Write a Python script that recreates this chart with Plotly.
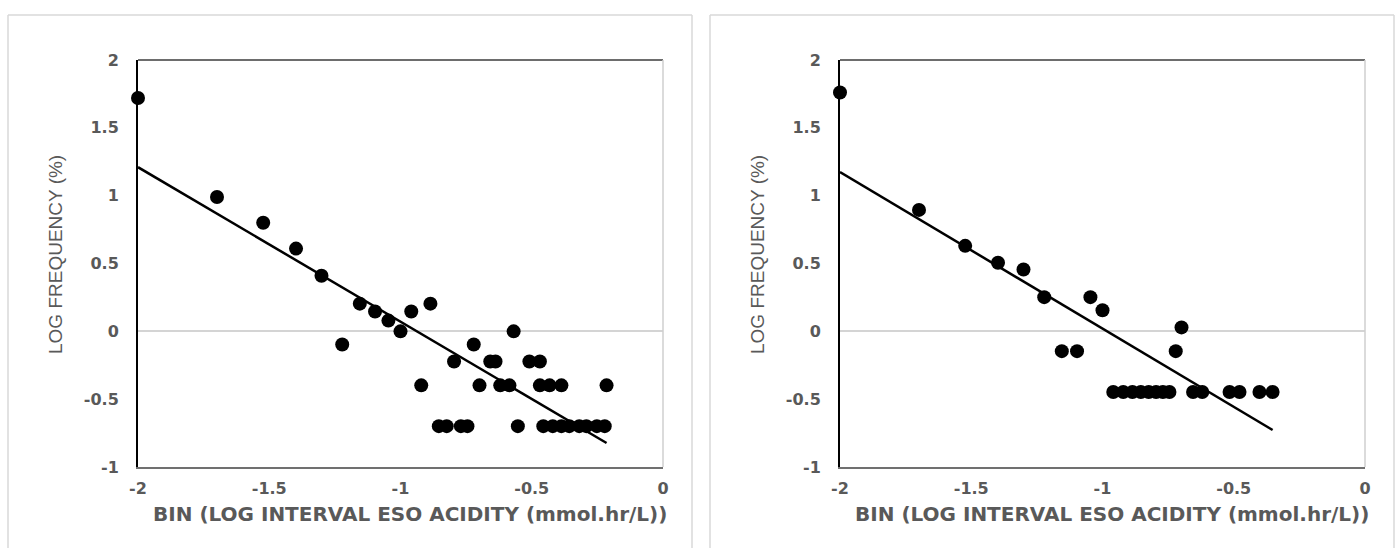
import plotly.graph_objects as go

W, H = 1397, 548

# ---------------- data ----------------
left_x = [-2.0, -1.699, -1.523, -1.398, -1.301, -1.222, -1.155, -1.097, -1.046, -1.000,
          -0.959, -0.921, -0.886, -0.854, -0.824, -0.796, -0.770, -0.745, -0.721, -0.699,
          -0.658, -0.638, -0.620, -0.585, -0.569, -0.553, -0.509, -0.469, -0.469, -0.456,
          -0.432, -0.420, -0.387, -0.387, -0.357, -0.319, -0.292, -0.252, -0.222, -0.215]
left_y = [1.72, 0.99, 0.80, 0.61, 0.41, -0.097, 0.204, 0.146, 0.079, 0.0,
          0.146, -0.398, 0.204, -0.699, -0.699, -0.222, -0.699, -0.699, -0.097, -0.398,
          -0.222, -0.222, -0.398, -0.398, 0.0, -0.699, -0.222, -0.222, -0.398, -0.699,
          -0.398, -0.699, -0.398, -0.699, -0.699, -0.699, -0.699, -0.699, -0.699, -0.398]
left_fit_x = [-2.0, -0.215]
left_fit_y = [1.21, -0.823]

right_x = [-2.0, -1.699, -1.523, -1.398, -1.301, -1.222, -1.155, -1.097, -1.046, -1.000,
           -0.959, -0.921, -0.886, -0.854, -0.824, -0.796, -0.770, -0.745, -0.721, -0.699,
           -0.655, -0.620, -0.516, -0.478, -0.402, -0.352]
right_y = [1.76, 0.895, 0.63, 0.505, 0.456, 0.252, -0.146, -0.146, 0.252, 0.155,
           -0.447, -0.447, -0.447, -0.447, -0.447, -0.447, -0.447, -0.447, -0.146, 0.029,
           -0.447, -0.447, -0.447, -0.447, -0.447, -0.447]
right_fit_x = [-2.0, -0.352]
right_fit_y = [1.174, -0.727]

x_ticks = [-2, -1.5, -1, -0.5, 0]
x_ticktext = ["-2", "-1.5", "-1", "-0.5", "0"]
y_ticks = [-1, -0.5, 0, 0.5, 1, 1.5, 2]
y_ticktext = ["-1", "-0.5", "0", "0.5", "1", "1.5", "2"]

x_title = "BIN (LOG INTERVAL ESO ACIDITY (mmol.hr/L))"
y_title = "LOG FREQUENCY (%)"

# ---------------- styling ----------------
GRAY = "#595959"
TICKFONT = dict(family="DejaVu Sans", size=16, color=GRAY, weight="bold")


def px_x(p):
    return p / W


def px_y(p):
    return 1 - p / H


fig = go.Figure()

panels = [
    dict(xs=left_x, ys=left_y, fx=left_fit_x, fy=left_fit_y, xa="x", ya="y"),
    dict(xs=right_x, ys=right_y, fx=right_fit_x, fy=right_fit_y, xa="x2", ya="y2"),
]
for p in panels:
    fig.add_trace(go.Scatter(x=p["fx"], y=p["fy"], mode="lines",
                             line=dict(color="black", width=2.5),
                             xaxis=p["xa"], yaxis=p["ya"], hoverinfo="skip"))
    fig.add_trace(go.Scatter(x=p["xs"], y=p["ys"], mode="markers",
                             marker=dict(color="black", size=14),
                             cliponaxis=False,
                             xaxis=p["xa"], yaxis=p["ya"]))

plot_lefts = [138, 840]
plot_w = 525
plot_top, plot_bot = 60, 467

axis_common_x = dict(range=[-2, 0], tickvals=x_ticks, ticktext=x_ticktext,
                     showgrid=False, zeroline=False, showline=True,
                     linecolor="#707070", linewidth=2, ticks="", automargin=False,
                     tickfont=TICKFONT, ticklabelstandoff=6, fixedrange=True)
axis_common_y = dict(range=[-1, 2], tickvals=y_ticks, ticktext=y_ticktext,
                     showgrid=False, zeroline=True, zerolinecolor="#d4d4d4",
                     zerolinewidth=2, showline=True, linecolor="black",
                     linewidth=2, ticks="", tickfont=TICKFONT, automargin=False,
                     ticklabelstandoff=14, fixedrange=True)

fig.update_layout(
    width=W, height=H,
    margin=dict(l=0, r=0, t=0, b=0, pad=0),
    paper_bgcolor="white", plot_bgcolor="white",
    showlegend=False,
    xaxis=dict(domain=[px_x(plot_lefts[0]), px_x(plot_lefts[0] + plot_w)], anchor="y", **axis_common_x),
    yaxis=dict(domain=[px_y(plot_bot), px_y(plot_top)], anchor="x", **axis_common_y),
    xaxis2=dict(domain=[px_x(plot_lefts[1]), px_x(plot_lefts[1] + plot_w)], anchor="y2", **axis_common_x),
    yaxis2=dict(domain=[px_y(plot_bot), px_y(plot_top)], anchor="x2", **axis_common_y),
)

shapes = []
# outer panel borders (light gray)
for x0, x1 in [(8, 692), (710, 1394)]:
    for (a, b, c, d) in [(x0, 15, x0, H + 5), (x0, 15, x1, 15), (x1, 15, x1, H + 5)]:
        shapes.append(dict(type="line", xref="paper", yref="paper",
                           x0=px_x(a), y0=px_y(b), x1=px_x(c), y1=px_y(d),
                           line=dict(color="#d9d9d9", width=1.5)))
# plot frame: dark top, light right
for xr, yr in [("x domain", "y domain"), ("x2 domain", "y2 domain")]:
    shapes.append(dict(type="line", xref=xr, yref=yr, x0=0, y0=1, x1=1, y1=1,
                       line=dict(color="#3c3c3c", width=1.5)))
    shapes.append(dict(type="line", xref=xr, yref=yr, x0=1, y0=0, x1=1, y1=1,
                       line=dict(color="#cfcfcf", width=1.5)))
fig.update_layout(shapes=shapes)

annotations = []
for cx, ycx in [(410, 55), (1112, 757)]:
    annotations.append(dict(text=x_title, xref="paper", yref="paper",
                            x=px_x(cx), y=px_y(514), xanchor="center", yanchor="middle",
                            showarrow=False,
                            font=dict(family="DejaVu Sans", size=20, color=GRAY, weight="bold")))
    annotations.append(dict(text=y_title, xref="paper", yref="paper",
                            x=px_x(ycx), y=px_y(255), xanchor="center", yanchor="middle",
                            textangle=-90, showarrow=False,
                            font=dict(family="Liberation Sans", size=19, color=GRAY)))
fig.update_layout(annotations=annotations)

fig.write_html(
    "out.html",
    config={"displayModeBar": False},
    post_script="document.body.style.margin='0';document.body.style.overflow='hidden';",
)
